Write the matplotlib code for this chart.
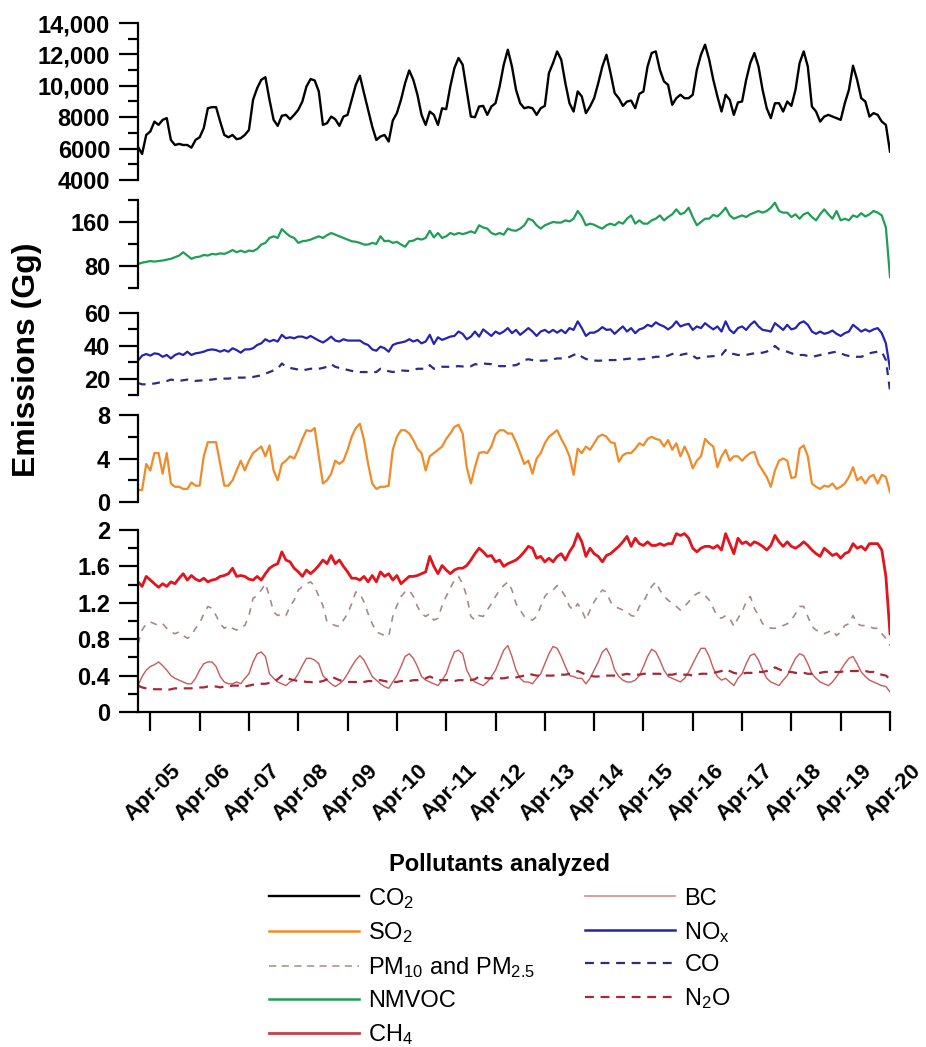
import matplotlib
matplotlib.use("Agg")
import matplotlib.pyplot as plt
import numpy as np
from matplotlib.ticker import FixedLocator, FuncFormatter
from matplotlib.lines import Line2D
from matplotlib.transforms import ScaledTranslation

plt.rcParams['font.family'] = ['Liberation Sans', 'DejaVu Sans']
plt.rcParams['mathtext.fontset'] = 'custom'
plt.rcParams['mathtext.rm'] = 'Liberation Sans'
plt.rcParams['mathtext.it'] = 'Liberation Sans:italic'
plt.rcParams['mathtext.bf'] = 'Liberation Sans:bold'

# monthly values, Jan 2005 .. Apr 2020
co2 = [6100, 5660, 6870, 7090, 7720, 7510, 7830, 7940, 6550, 6230, 6300, 6230,
       6230, 6060, 6550, 6720, 7300, 8570, 8640, 8640, 7720, 6870, 6720, 6870,
       6600, 6660, 6870, 7190, 9110, 9850, 10380, 10550, 9110, 7830, 7450, 8090,
       8150, 7870, 8150, 8470, 9000, 9960, 10430, 10340, 9640, 7510, 7620, 8040,
       7870, 7450, 8040, 8150, 9110, 10060, 10640, 9530, 8470, 7400, 6550, 6770,
       6870, 6450, 7790, 8260, 9110, 10170, 10980, 10380, 9430, 8150, 7510, 8360,
       8150, 7510, 8570, 8510, 9960, 11130, 11770, 11350, 9700, 8040, 8000, 8680,
       8720, 8150, 8680, 8890, 9960, 11340, 12300, 11230, 9740, 8890, 8570, 8640,
       8570, 8150, 8570, 8720, 10810, 11450, 12190, 11660, 10170, 8890, 8360, 9640,
       9320, 8260, 8680, 9210, 10170, 11230, 11980, 10810, 9530, 9210, 8720, 9000,
       9060, 8570, 9490, 9640, 11230, 12090, 12190, 11020, 10280, 10060, 8790, 9210,
       9430, 9210, 9210, 9430, 11020, 11980, 12620, 11660, 10380, 9320, 8360, 9430,
       9110, 8150, 8940, 9000, 10380, 11450, 12090, 11230, 9740, 8570, 7940, 8890,
       8890, 8360, 9000, 8720, 9740, 11450, 12190, 11230, 8680, 8360, 7720, 8040,
       8150, 8040, 7940, 7830, 8890, 9740, 11280, 10380, 9210, 9000, 8040, 8260,
       8150, 7720, 7510, 5810]

nmvoc = [83.5, 86, 87.5, 89, 88, 89, 90, 91.6, 93, 96, 99, 105,
         99, 93, 96, 97, 100, 99, 102, 101, 103, 102, 105, 109,
         105, 108, 105, 108, 107, 111, 119, 122, 131, 134, 131, 147,
         140, 134, 131, 122, 125, 126, 128, 131, 134, 131, 136, 140,
         137, 134, 131, 128, 125, 124, 122, 119, 119, 122, 120, 134,
         125, 126, 122, 124, 119, 115, 125, 126, 130, 128, 131, 144,
         132, 140, 131, 134, 140, 137, 140, 138, 140, 143, 140, 154,
         150, 148, 140, 137, 140, 137, 148, 145, 144, 148, 154, 166,
         163, 154, 148, 154, 157, 160, 159, 159, 163, 161, 166, 180,
         170, 154, 157, 155, 151, 148, 154, 157, 154, 160, 157, 166,
         172, 157, 163, 157, 157, 163, 166, 172, 163, 169, 174, 183,
         174, 177, 186, 169, 154, 160, 166, 166, 173, 170, 177, 186,
         172, 166, 169, 172, 169, 174, 177, 180, 177, 180, 186, 195,
         180, 177, 177, 169, 174, 166, 174, 177, 169, 163, 174, 183,
         174, 166, 180, 163, 166, 163, 172, 169, 176, 170, 174, 180,
         177, 172, 150, 60]

nox = [31, 34, 35, 34, 35.4, 35, 33.3, 34.4, 32.3, 34.4, 35.4, 34.4,
       36.4, 34.4, 35.4, 35.8, 36.4, 37.4, 37.8, 37.4, 36.4, 37.4, 36.4, 38.5,
       37.4, 35.8, 37.8, 37.8, 38.5, 40.5, 41.5, 44, 42.6, 43.6, 42.6, 46.7,
       44.6, 45.2, 44.6, 45.6, 45.6, 44.6, 46, 44.6, 43.2, 42, 43.6, 45.6,
       43.2, 42.6, 44, 43.2, 43.2, 43.2, 43.2, 41.5, 40.5, 37.8, 37, 39.5,
       38.5, 36.4, 40.5, 41.5, 42, 42.6, 44, 42.6, 43.6, 41.5, 42.6, 46.7,
       41.1, 45.2, 43.6, 44.6, 45.6, 46, 48.7, 47.3, 44, 45.6, 48.7, 45.6,
       50, 48, 46, 48.7, 47.3, 48.7, 50.8, 47.7, 49.7, 46.7, 48.7, 50.8,
       48.7, 46, 48.7, 49.7, 48, 49.7, 48, 49.7, 47.7, 50.8, 49.7, 54.9,
       50.8, 46, 48, 48, 49.3, 51.4, 49.7, 50, 47.3, 49.7, 51.8, 48.7,
       50.8, 47.7, 50, 50.8, 52.8, 51.8, 54.3, 52.8, 51.8, 50, 51.8, 54.9,
       51.8, 52.8, 53.4, 49.7, 51.8, 50.8, 53.8, 51.8, 50, 51.8, 48.7, 54.9,
       49.7, 47.7, 50.8, 51.8, 49.7, 52.8, 54.9, 51.8, 49.7, 49.3, 48.7, 53.8,
       51.8, 49.7, 52.8, 50, 50.8, 53.8, 54.9, 52.8, 48.7, 47.3, 48.7, 47.3,
       48, 49.3, 47.3, 46, 47.7, 48.7, 52.8, 50.8, 48.7, 50, 48.7, 50,
       50.8, 47.7, 41.5, 26]

co = [17.3, 16.5, 16.5, 16.8, 17, 17.5, 18, 18.5, 19.4, 19, 18.6, 19,
      19.4, 19, 18.6, 18.8, 19, 19.2, 19.4, 19.8, 20, 20, 20, 20.3,
      20.6, 20.6, 20.6, 20.8, 21, 21.5, 22, 23, 24, 25, 26, 29.2,
      27.2, 26.5, 26, 25.5, 25, 25.5, 26, 26, 26, 26.5, 27.2, 28.8,
      27.2, 26.5, 26, 25.3, 24.7, 24.3, 24, 24, 24, 24, 24, 26,
      25, 24.5, 24, 24.5, 25, 24.8, 24.7, 25.3, 26, 26, 26, 28.2,
      26, 26.5, 27.2, 27.2, 27.2, 27.4, 27.6, 27.4, 27.2, 27.5, 28.8, 28.5,
      29.2, 29, 28.8, 28, 27.6, 27.6, 27.6, 28, 28.2, 29.5, 31.3, 31.8,
      31.3, 31, 30.9, 31, 31.3, 31.8, 32.3, 32.3, 32.3, 33.2, 34.4, 35.4,
      33.3, 32, 31.3, 31, 30.9, 31, 31.3, 31.3, 31.3, 31.5, 31.7, 32,
      32.3, 32, 31.7, 32, 32.3, 32.8, 33.3, 33.3, 33.3, 34, 35, 35.4,
      34.4, 35, 35.4, 34, 32.3, 32.8, 33.3, 33.5, 33.7, 34, 34.4, 37.4,
      35.4, 35, 34.4, 34.4, 34.4, 35, 35.4, 35.6, 35.8, 36.5, 37.4, 39.9,
      37.8, 37, 36.4, 35.5, 34.4, 34.4, 34.4, 33.8, 33.3, 33.8, 34.4, 35,
      35.4, 36, 36.4, 35.5, 34.4, 33.8, 33.3, 33.3, 33.3, 34.2, 35.4, 36,
      36.4, 36.4, 31.3, 12.8]

so2 = [1.1, 1.1, 3.5, 2.9, 4.5, 4.5, 2.6, 4.5, 1.7, 1.4, 1.4, 1.2,
       1.2, 1.8, 1.5, 1.5, 4.2, 5.5, 5.5, 5.5, 3.5, 1.5, 1.5, 2.0,
       2.9, 3.8, 2.9, 3.8, 4.5, 4.8, 5.1, 4.2, 5.2, 2.9, 2.0, 3.5,
       3.8, 4.2, 4.0, 4.8, 5.8, 6.6, 6.5, 6.8, 4.2, 1.7, 2.0, 2.6,
       3.8, 3.5, 3.8, 4.8, 6.0, 6.8, 7.2, 5.7, 3.5, 1.7, 1.2, 1.4,
       1.4, 1.5, 4.8, 6.0, 6.6, 6.6, 6.3, 5.7, 4.9, 4.5, 2.9, 4.2,
       4.5, 4.8, 5.1, 5.8, 6.3, 6.9, 7.1, 6.3, 3.2, 1.7, 3.2, 4.5,
       4.6, 4.5, 5.1, 6.2, 6.6, 6.6, 6.3, 6.3, 5.5, 4.5, 3.5, 3.8,
       2.6, 4.0, 4.5, 5.4, 6.0, 6.3, 6.6, 5.8, 5.1, 4.2, 2.5, 4.9,
       4.5, 5.1, 4.8, 5.4, 6.0, 6.2, 6.0, 5.5, 5.4, 3.7, 4.3, 4.5,
       4.5, 4.9, 5.4, 5.2, 5.8, 6.0, 5.8, 5.7, 5.1, 5.7, 4.8, 5.4,
       4.2, 5.1, 4.3, 3.1, 3.8, 4.2, 5.8, 5.4, 5.1, 3.2, 4.2, 4.8,
       3.8, 4.2, 4.2, 3.8, 4.2, 4.5, 4.6, 3.5, 2.9, 2.3, 1.4, 2.9,
       3.8, 4.0, 3.8, 2.2, 2.3, 4.9, 5.2, 4.2, 1.7, 1.4, 1.2, 1.5,
       1.4, 1.7, 1.2, 1.4, 1.7, 2.3, 3.2, 2.0, 2.3, 1.7, 2.3, 2.5,
       1.7, 2.5, 2.3, 0.9]

ch4 = [1.43, 1.38, 1.49, 1.45, 1.41, 1.37, 1.41, 1.38, 1.43, 1.41, 1.47, 1.52,
       1.45, 1.50, 1.46, 1.44, 1.47, 1.43, 1.45, 1.46, 1.49, 1.50, 1.52, 1.58,
       1.49, 1.50, 1.49, 1.46, 1.45, 1.49, 1.45, 1.52, 1.58, 1.61, 1.63, 1.76,
       1.67, 1.65, 1.58, 1.54, 1.49, 1.56, 1.52, 1.56, 1.61, 1.67, 1.63, 1.72,
       1.63, 1.67, 1.60, 1.54, 1.47, 1.47, 1.45, 1.49, 1.43, 1.50, 1.43, 1.54,
       1.49, 1.52, 1.45, 1.50, 1.41, 1.45, 1.49, 1.49, 1.50, 1.52, 1.54, 1.71,
       1.60, 1.52, 1.61, 1.56, 1.52, 1.56, 1.58, 1.58, 1.61, 1.67, 1.74, 1.80,
       1.76, 1.71, 1.72, 1.65, 1.67, 1.60, 1.63, 1.65, 1.67, 1.71, 1.76, 1.82,
       1.80, 1.69, 1.71, 1.65, 1.69, 1.65, 1.71, 1.74, 1.67, 1.76, 1.83, 1.96,
       1.87, 1.71, 1.80, 1.74, 1.71, 1.65, 1.72, 1.74, 1.78, 1.82, 1.87, 1.93,
       1.82, 1.91, 1.85, 1.83, 1.87, 1.83, 1.83, 1.85, 1.83, 1.85, 1.85, 1.96,
       1.94, 1.96, 1.91, 1.80, 1.76, 1.80, 1.82, 1.82, 1.80, 1.83, 1.78, 1.96,
       1.85, 1.74, 1.91, 1.85, 1.87, 1.83, 1.87, 1.85, 1.82, 1.78, 1.83, 1.94,
       1.87, 1.82, 1.87, 1.82, 1.80, 1.83, 1.87, 1.83, 1.78, 1.74, 1.71, 1.80,
       1.76, 1.72, 1.74, 1.69, 1.74, 1.76, 1.85, 1.80, 1.82, 1.78, 1.85, 1.85,
       1.85, 1.78, 1.49, 0.86]

pm = [0.75, 0.90, 0.97, 0.99, 0.97, 0.95, 0.97, 0.92, 0.88, 0.86, 0.88, 0.84,
      0.81, 0.84, 0.92, 0.97, 1.08, 1.16, 1.14, 1.06, 0.97, 0.92, 0.95, 0.92,
      0.90, 0.94, 0.95, 1.06, 1.25, 1.28, 1.34, 1.41, 1.27, 1.10, 1.06, 1.08,
      1.06, 1.16, 1.23, 1.34, 1.38, 1.41, 1.43, 1.38, 1.27, 1.17, 0.99, 0.97,
      0.95, 0.94, 1.01, 1.08, 1.19, 1.32, 1.30, 1.21, 1.08, 0.97, 0.88, 0.86,
      0.84, 0.83, 1.05, 1.17, 1.27, 1.32, 1.34, 1.27, 1.16, 1.08, 1.05, 1.08,
      1.01, 1.03, 1.17, 1.27, 1.36, 1.45, 1.49, 1.41, 1.27, 1.05, 1.01, 1.06,
      1.05, 1.12, 1.19, 1.27, 1.34, 1.39, 1.43, 1.34, 1.19, 1.12, 1.05, 1.03,
      1.01, 1.05, 1.16, 1.27, 1.32, 1.34, 1.39, 1.34, 1.27, 1.16, 1.12, 1.19,
      1.12, 1.01, 1.12, 1.21, 1.28, 1.34, 1.32, 1.21, 1.16, 1.14, 1.12, 1.10,
      1.06, 1.05, 1.16, 1.21, 1.30, 1.38, 1.43, 1.34, 1.27, 1.23, 1.19, 1.16,
      1.12, 1.16, 1.21, 1.27, 1.30, 1.32, 1.28, 1.23, 1.14, 1.05, 1.03, 1.06,
      1.03, 0.94, 1.03, 1.10, 1.21, 1.27, 1.14, 1.06, 0.97, 0.95, 0.92, 0.92,
      0.94, 0.95, 0.97, 1.01, 1.08, 1.16, 1.16, 1.05, 0.94, 0.90, 0.88, 0.86,
      0.88, 0.90, 0.84, 0.88, 0.95, 0.97, 1.06, 0.97, 0.95, 0.95, 0.94, 0.92,
      0.92, 0.86, 0.81, 0.73]

bc = [0.29, 0.39, 0.46, 0.50, 0.52, 0.55, 0.51, 0.46, 0.40, 0.37, 0.35, 0.33,
      0.31, 0.31, 0.37, 0.46, 0.53, 0.55, 0.55, 0.50, 0.39, 0.33, 0.31, 0.31,
      0.33, 0.31, 0.37, 0.42, 0.55, 0.64, 0.66, 0.61, 0.42, 0.37, 0.33, 0.31,
      0.29, 0.33, 0.35, 0.42, 0.51, 0.59, 0.59, 0.57, 0.53, 0.40, 0.35, 0.31,
      0.28, 0.31, 0.35, 0.42, 0.50, 0.57, 0.62, 0.57, 0.48, 0.39, 0.35, 0.31,
      0.28, 0.26, 0.33, 0.40, 0.50, 0.61, 0.64, 0.59, 0.50, 0.39, 0.35, 0.33,
      0.31, 0.29, 0.35, 0.42, 0.55, 0.66, 0.68, 0.64, 0.46, 0.37, 0.33, 0.31,
      0.29, 0.33, 0.39, 0.46, 0.57, 0.68, 0.73, 0.61, 0.46, 0.37, 0.33, 0.33,
      0.31, 0.37, 0.42, 0.53, 0.64, 0.72, 0.70, 0.61, 0.50, 0.40, 0.39, 0.37,
      0.37, 0.31, 0.37, 0.46, 0.55, 0.66, 0.70, 0.61, 0.46, 0.39, 0.35, 0.33,
      0.33, 0.35, 0.40, 0.50, 0.61, 0.69, 0.66, 0.57, 0.46, 0.39, 0.37, 0.35,
      0.33, 0.37, 0.44, 0.53, 0.62, 0.70, 0.70, 0.61, 0.48, 0.39, 0.35, 0.37,
      0.33, 0.29, 0.37, 0.42, 0.53, 0.62, 0.64, 0.57, 0.46, 0.37, 0.33, 0.31,
      0.29, 0.35, 0.40, 0.50, 0.59, 0.64, 0.62, 0.53, 0.42, 0.37, 0.33, 0.31,
      0.29, 0.33, 0.39, 0.46, 0.53, 0.59, 0.61, 0.53, 0.44, 0.39, 0.35, 0.33,
      0.31, 0.29, 0.28, 0.22]

n2o = [0.29, 0.27, 0.26, 0.26, 0.25, 0.25, 0.25, 0.24, 0.25, 0.26, 0.26, 0.26,
       0.26, 0.26, 0.27, 0.27, 0.27, 0.28, 0.28, 0.28, 0.27, 0.28, 0.28, 0.29,
       0.29, 0.29, 0.28, 0.29, 0.30, 0.30, 0.31, 0.31, 0.32, 0.33, 0.36, 0.40,
       0.38, 0.36, 0.35, 0.34, 0.34, 0.33, 0.33, 0.32, 0.33, 0.34, 0.36, 0.39,
       0.37, 0.35, 0.34, 0.33, 0.33, 0.33, 0.32, 0.33, 0.34, 0.34, 0.35, 0.35,
       0.34, 0.33, 0.33, 0.33, 0.34, 0.34, 0.34, 0.35, 0.35, 0.36, 0.37, 0.39,
       0.37, 0.35, 0.35, 0.35, 0.35, 0.34, 0.35, 0.35, 0.34, 0.35, 0.36, 0.39,
       0.38, 0.37, 0.37, 0.37, 0.37, 0.37, 0.38, 0.38, 0.38, 0.39, 0.40, 0.42,
       0.41, 0.40, 0.40, 0.40, 0.40, 0.40, 0.41, 0.41, 0.41, 0.42, 0.43, 0.45,
       0.43, 0.41, 0.40, 0.39, 0.39, 0.40, 0.40, 0.40, 0.40, 0.40, 0.41, 0.42,
       0.41, 0.41, 0.41, 0.42, 0.42, 0.42, 0.42, 0.42, 0.41, 0.41, 0.41, 0.42,
       0.42, 0.41, 0.41, 0.40, 0.41, 0.42, 0.42, 0.42, 0.43, 0.44, 0.45, 0.47,
       0.45, 0.43, 0.42, 0.42, 0.43, 0.43, 0.43, 0.44, 0.44, 0.45, 0.46, 0.49,
       0.47, 0.45, 0.44, 0.44, 0.43, 0.43, 0.43, 0.42, 0.42, 0.43, 0.43, 0.44,
       0.44, 0.44, 0.44, 0.44, 0.45, 0.45, 0.45, 0.45, 0.46, 0.45, 0.44, 0.44,
       0.42, 0.41, 0.40, 0.36]

tick_labels = ["Apr-%02d" % y for y in range(5, 21)]

months = np.arange(len(co2))  # 0 = Jan 2005
tick_pos = np.arange(3, len(co2), 12)

W, H = 926, 1047
fig = plt.figure(figsize=(W / 100, H / 100), dpi=100)

def px_axes(top, bottom, left=138, right=890):
    return fig.add_axes([left / W, 1 - bottom / H, (right - left) / W, (bottom - top) / H])

def style(ax, ylim, major, minor, fmt, last=False):
    ax.set_xlim(0, 183)
    ax.set_ylim(*ylim)
    ax.yaxis.set_major_locator(FixedLocator(major))
    ax.yaxis.set_minor_locator(FixedLocator(minor))
    ax.yaxis.set_major_formatter(FuncFormatter(fmt))
    ax.spines['top'].set_visible(False)
    ax.spines['right'].set_visible(False)
    ax.spines['left'].set_linewidth(1.6)
    ax.tick_params(axis='y', which='major', length=14, width=1.6, pad=6,
                   labelsize=17)
    ax.tick_params(axis='y', which='minor', length=7, width=1.6)
    for lab in ax.get_yticklabels():
        lab.set_fontweight('bold')
    ax.patch.set_alpha(0)
    if last:
        ax.spines['bottom'].set_linewidth(1.6)
        ax.set_xticks(tick_pos)
        ax.set_xticklabels(tick_labels, rotation=45, ha='center', va='top',
                           fontsize=16, fontweight='bold')
        ax.tick_params(axis='x', length=14, width=1.6, pad=21)
        shift = ScaledTranslation(2 / 72, 0, fig.dpi_scale_trans)
        for lab in ax.get_xticklabels():
            lab.set_transform(lab.get_transform() + shift)
    else:
        ax.spines['bottom'].set_visible(False)
        ax.set_xticks([])

def thousands(v, p):
    v = int(round(v))
    return "{:,}".format(v) if v >= 10000 else str(v)

def plain(v, p):
    return ("%g" % v)

ax1 = px_axes(23, 180)
ax1.plot(months, co2, color='black', lw=1.7)
style(ax1, (4000, 14000), np.arange(4000, 14001, 2000), np.arange(5000, 14000, 2000), thousands)

ax2 = px_axes(200, 288)
ax2.plot(months, nmvoc, color='#1f9e55', lw=1.6)
style(ax2, (40, 200), [80, 160], [40, 120, 200], plain)

ax3 = px_axes(313, 395)
ax3.plot(months, nox, color='#2424b4', lw=1.6)
ax3.plot(months, co, color='#2c2c86', lw=1.6, ls=(0, (3.5, 3)))
style(ax3, (10, 60), [20, 40, 60], [10, 30, 50], plain)

ax4 = px_axes(415, 502)
ax4.plot(months, so2, color='#f08a2a', lw=1.6)
style(ax4, (0, 8), [0, 4, 8], [2, 6], plain)

ax5 = px_axes(530, 712)
ax5.plot(months, pm, color='#a88888', lw=1.2, ls=(0, (4, 4)))
ax5.plot(months, bc, color='#c85a5a', lw=1.0)
ax5.plot(months, n2o, color='#a82838', lw=1.6, ls=(0, (4, 3)))
ax5.plot(months, ch4, color='#e3141c', lw=2.0)
style(ax5, (0, 2), [0, 0.4, 0.8, 1.2, 1.6, 2.0], [0.2, 0.6, 1.0, 1.4, 1.8], plain, last=True)

fig.text(27 / W, 1 - 360 / H, "Emissions (Gg)", rotation=90, ha='center', va='center',
         fontsize=23, fontweight='bold')

# legend
handles = [
    Line2D([], [], color='black', lw=1.7),
    Line2D([], [], color='#f08a2a', lw=1.8),
    Line2D([], [], color='#b89a9a', lw=1.3, ls=(0, (4, 3))),
    Line2D([], [], color='#1f9e55', lw=1.8),
    Line2D([], [], color='#c8404c', lw=2.0),
    Line2D([], [], color='#d98a8a', lw=1.2),
    Line2D([], [], color='#2424b4', lw=1.8),
    Line2D([], [], color='#2c2c86', lw=1.6, ls=(0, (4, 3))),
    Line2D([], [], color='#a82838', lw=1.6, ls=(0, (4, 3))),
]
labels = [r'CO$_\mathrm{2}$', r'SO$_\mathrm{2}$', r'PM$_\mathrm{10}$ and PM$_\mathrm{2.5}$',
          'NMVOC', r'CH$_\mathrm{4}$', 'BC', r'NO$_\mathrm{x}$', 'CO', r'N$_\mathrm{2}$O']
leg = fig.legend(handles, labels, ncol=2, loc='upper center',
                 bbox_to_anchor=(500 / W, 1 - 841 / H), frameon=False,
                 title='Pollutants analyzed', fontsize=17,
                 title_fontproperties={'weight': 'bold', 'size': 17},
                 handlelength=3.8, handletextpad=0.4, columnspacing=2.1,
                 labelspacing=0.42, borderpad=0.0)

fig.savefig("out.png", dpi=100)
